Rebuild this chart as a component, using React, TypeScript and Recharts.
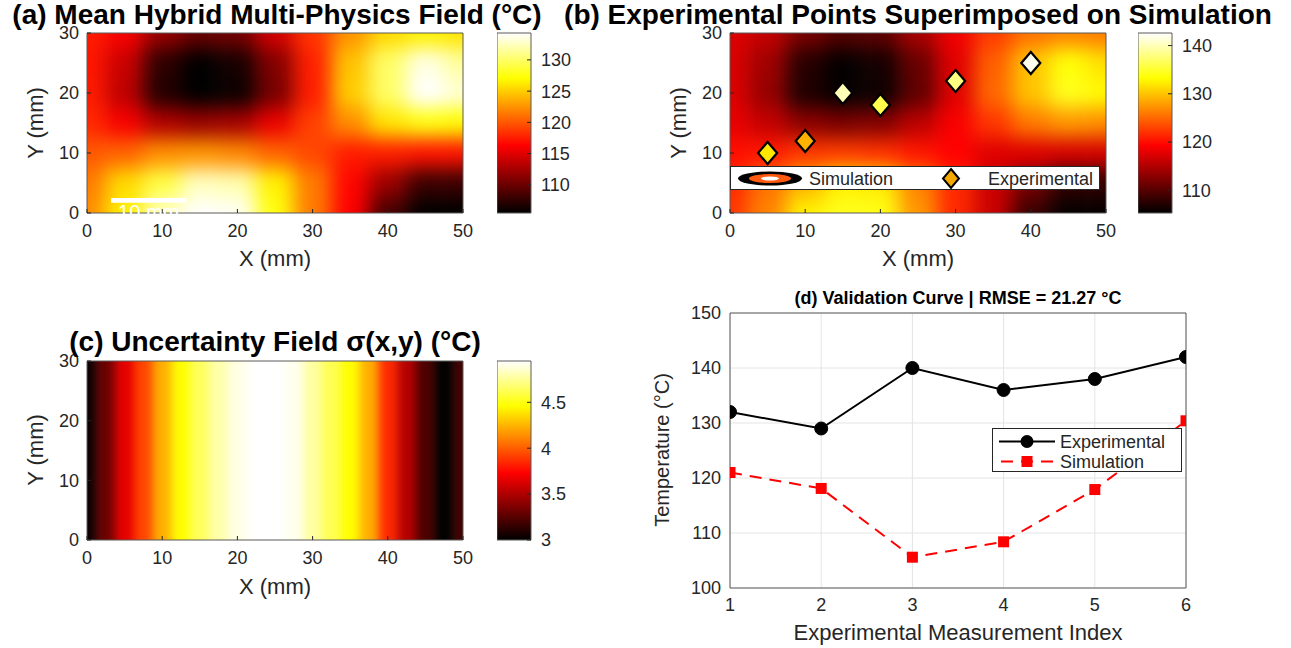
import React from "react";
import {
  CartesianGrid,
  ComposedChart,
  Line,
  LineChart,
  ReferenceArea,
  Scatter,
  XAxis,
  YAxis,
} from "recharts";

const FONT = '"Liberation Sans", Arial, sans-serif';
const INK = "#262626";
const BOX = "#5a5a5a";

// ---- grid for the mean field (mm) ----
const gridX = [0, 5, 10, 15, 20, 25, 30, 35, 40, 45, 50];
const gridY = [0, 5, 10, 15, 20, 25, 30];

// mean temperature (°C), one row per Y value
const meanY0 = [122.3, 126.5, 132.5, 134.3, 134.0, 127.5, 121.5, 116.3, 108.5, 105.5, 105.5];
const meanY5 = [121.5, 125.5, 129.0, 132.5, 132.0, 126.5, 121.5, 116.5, 112.0, 108.0, 108.0];
const meanY10 = [120.0, 120.5, 122.3, 122.6, 122.0, 120.5, 119.3, 117.5, 117.5, 117.0, 117.0];
const meanY15 = [118.0, 116.0, 113.0, 112.0, 112.5, 115.5, 119.0, 122.3, 126.0, 127.5, 127.0];
const meanY20 = [117.4, 113.5, 107.0, 105.5, 106.0, 110.5, 117.5, 125.0, 130.0, 134.3, 133.0];
const meanY25 = [117.2, 114.0, 107.5, 105.5, 106.5, 111.0, 117.6, 124.5, 130.0, 133.5, 131.5];
const meanY30 = [117.5, 116.0, 112.0, 110.0, 110.5, 114.5, 118.5, 122.5, 125.5, 126.5, 126.0];
const meanField = [meanY0, meanY5, meanY10, meanY15, meanY20, meanY25, meanY30];

// uncertainty sigma (°C) along X, constant in Y
const sigmaX = [0, 2.5, 5, 7.5, 10, 12.5, 15, 17.5, 20, 22.5, 25, 27.5, 30, 32.5, 35, 37.5, 40, 42.5, 45, 47.5, 50];
const sigmaVals = [3.03, 3.31, 3.66, 3.93, 4.23, 4.46, 4.64, 4.79, 4.9, 4.95, 4.95, 4.92, 4.77, 4.62, 4.46, 4.23, 3.85, 3.52, 3.22, 3.0, 3.2];

// experimental points
const expX = [5, 10, 15, 20, 30, 40];
const expY = [10, 12, 20, 18, 22, 25];
const expTemp = [132, 129, 140, 136, 138, 142];
const simTemp = [121.0, 118.1, 105.6, 108.4, 117.9, 130.4];
const measIdx = [1, 2, 3, 4, 5, 6];

// colour limits / ticks
const rangeA: [number, number] = [105.5, 134.3];
const rangeB: [number, number] = [105.3, 142.6];
const rangeC: [number, number] = [3.0, 4.95];
const cbTicksA = [110, 115, 120, 125, 130];
const cbTicksB = [110, 120, 130, 140];
const cbTicksC = [3, 3.5, 4, 4.5];
const mmTicksX = [0, 10, 20, 30, 40, 50];
const mmTicksY = [0, 10, 20, 30];
const tempTicks = [100, 110, 120, 130, 140, 150];

// panel rectangles (page px)
const plotA = { l: 87, t: 33, w: 376, h: 180 };
const plotB = { l: 730, t: 33, w: 376, h: 180 };
const plotC = { l: 87, t: 361, w: 376, h: 179 };
const plotD = { l: 730, t: 313, w: 456, h: 275 };
const barA = { l: 497, t: 33, w: 34, h: 180 };
const barB = { l: 1138, t: 33, w: 34, h: 180 };
const barC = { l: 497, t: 361, w: 34, h: 179 };

type Rect = { l: number; t: number; w: number; h: number };

const clamp = (v: number) => Math.max(0, Math.min(1, v));
function hot(t: number): string {
  const r = clamp(t / 0.375);
  const g = clamp((t - 0.375) / 0.375);
  const b = clamp((t - 0.75) / 0.25);
  return `rgb(${Math.round(r * 255)},${Math.round(g * 255)},${Math.round(b * 255)})`;
}
const hotAt = (v: number, [lo, hi]: [number, number]) => hot((v - lo) / (hi - lo));

interface Cell {
  key: string;
  x1: number;
  x2: number;
  y1: number;
  y2: number;
  fill: string;
}

function edges(vals: number[], i: number, ext: number): [number, number] {
  const a = i === 0 ? vals[0] - ext : (vals[i - 1] + vals[i]) / 2;
  const b = i === vals.length - 1 ? vals[i] + ext : (vals[i] + vals[i + 1]) / 2;
  return [a, b];
}

function fieldCells(xs: number[], ys: number[], rows: number[][], range: [number, number]): Cell[] {
  const out: Cell[] = [];
  rows.forEach((row, j) => {
    const [y1, y2] = edges(ys, j, 8);
    row.forEach((v, i) => {
      const [x1, x2] = edges(xs, i, 8);
      out.push({ key: `${i}-${j}`, x1, x2, y1, y2, fill: hotAt(v, range) });
    });
  });
  return out;
}

function bandCells(xs: number[], vals: number[], range: [number, number]): Cell[] {
  return vals.map((v, i) => {
    const [x1, x2] = edges(xs, i, 8);
    return { key: `b${i}`, x1, x2, y1: -10, y2: 40, fill: hotAt(v, range) };
  });
}

const tickStyle = { fill: INK, fontSize: 18, fontFamily: FONT };
const tickMark = { stroke: INK, strokeWidth: 1 };

function HeatLayer({ plot, cells, blur }: { plot: Rect; cells: Cell[]; blur: number }) {
  const pad = 45;
  return (
    <div style={{ position: "absolute", left: plot.l, top: plot.t, width: plot.w, height: plot.h, overflow: "hidden" }}>
      <div style={{ position: "absolute", left: -pad, top: -pad, filter: `blur(${blur}px)` }}>
        <ComposedChart
          width={plot.w + 2 * pad}
          height={plot.h + 2 * pad}
          margin={{ top: pad, right: pad, bottom: pad, left: pad }}
        >
          <XAxis type="number" dataKey="x" domain={[0, 50]} allowDataOverflow hide />
          <YAxis type="number" dataKey="y" domain={[0, 30]} allowDataOverflow hide />
          {cells.map((c) => (
            <ReferenceArea
              key={c.key}
              x1={c.x1}
              x2={c.x2}
              y1={c.y1}
              y2={c.y2}
              fill={c.fill}
              fillOpacity={1}
              stroke="none"
              ifOverflow="visible"
            />
          ))}
        </ComposedChart>
      </div>
    </div>
  );
}

function HeatAxes({ plot, children }: { plot: Rect; children?: React.ReactNode }) {
  const ML = 60, MT = 10, MR = 10, MB = 40;
  return (
    <div style={{ position: "absolute", left: plot.l - ML, top: plot.t - MT }}>
      <ComposedChart
        width={plot.w + ML + MR}
        height={plot.h + MT + MB}
        margin={{ top: MT, right: MR, left: 0, bottom: 0 }}
      >
        <XAxis
          type="number"
          dataKey="x"
          domain={[0, 50]}
          allowDataOverflow
          ticks={mmTicksX}
          interval={0}
          height={MB}
          axisLine={false}
          tickLine={tickMark}
          tickSize={-4}
          tickMargin={15}
          tick={tickStyle}
        />
        <YAxis
          type="number"
          dataKey="y"
          domain={[0, 30]}
          allowDataOverflow
          ticks={mmTicksY}
          interval={0}
          width={ML}
          axisLine={false}
          tickLine={tickMark}
          tickSize={-4}
          tickMargin={12}
          tick={tickStyle}
        />
        <ReferenceArea x1={0} x2={50} y1={0} y2={30} fill="none" stroke={BOX} ifOverflow="visible" />
        {children}
      </ComposedChart>
    </div>
  );
}

function ColorBar({ bar, range, ticks, id }: { bar: Rect; range: [number, number]; ticks: number[]; id: string }) {
  const MT = 12, MR = 60;
  return (
    <div style={{ position: "absolute", left: bar.l, top: bar.t - MT }}>
      <ComposedChart width={bar.w + MR} height={bar.h + 2 * MT} margin={{ top: MT, bottom: MT, left: 0, right: 0 }}>
        <defs>
          <linearGradient id={id} x1="0" y1="1" x2="0" y2="0">
            <stop offset="0" stopColor="#000" />
            <stop offset="0.375" stopColor="#f00" />
            <stop offset="0.75" stopColor="#ff0" />
            <stop offset="1" stopColor="#fff" />
          </linearGradient>
        </defs>
        <XAxis type="number" dataKey="x" domain={[0, 1]} allowDataOverflow hide />
        <YAxis
          type="number"
          dataKey="y"
          orientation="right"
          domain={range}
          allowDataOverflow
          ticks={ticks}
          interval={0}
          width={MR}
          axisLine={false}
          tickLine={tickMark}
          tickSize={-4}
          tickMargin={14}
          tick={tickStyle}
        />
        <ReferenceArea
          x1={0}
          x2={1}
          y1={range[0]}
          y2={range[1]}
          fill={`url(#${id})`}
          fillOpacity={1}
          stroke={BOX}
          ifOverflow="visible"
        />
      </ComposedChart>
    </div>
  );
}

function Txt({
  x, y, size, bold, rotate, color, children,
}: {
  x: number; y: number; size: number; bold?: boolean; rotate?: boolean; color?: string; children: React.ReactNode;
}) {
  return (
    <div
      style={{
        position: "absolute",
        left: x,
        top: y,
        transform: `translate(-50%, -50%)${rotate ? " rotate(-90deg)" : ""}`,
        fontFamily: FONT,
        fontSize: size,
        fontWeight: bold ? 700 : 400,
        color: color ?? "#000",
        whiteSpace: "nowrap",
        lineHeight: 1,
      }}
    >
      {children}
    </div>
  );
}

const expPoints = expX.map((x, i) => ({ x, y: expY[i], t: expTemp[i] }));
const valData = measIdx.map((idx, i) => ({ idx, exp: expTemp[i], sim: simTemp[i] }));

function Diamond(p: any) {
  const { cx, cy, payload } = p;
  if (cx == null || cy == null) return null;
  const w = 9.5, h = 11;
  return (
    <polygon
      points={`${cx},${cy - h} ${cx + w},${cy} ${cx},${cy + h} ${cx - w},${cy}`}
      fill={hotAt(payload.t, rangeB)}
      stroke="#000"
      strokeWidth={2.2}
    />
  );
}

function SquareDot(p: any) {
  const { cx, cy, index } = p;
  return <rect key={`sq${index}`} x={cx - 5.5} y={cy - 5.5} width={11} height={11} fill="#ff0000" />;
}

function ValidationChart() {
  const ML = 60, MT = 10, MR = 10, MB = 40;
  return (
    <div style={{ position: "absolute", left: plotD.l - ML, top: plotD.t - MT }}>
      <LineChart
        width={plotD.w + ML + MR}
        height={plotD.h + MT + MB}
        data={valData}
        margin={{ top: MT, right: MR, left: 0, bottom: 0 }}
      >
        <CartesianGrid stroke="#e4e4e4" />
        <XAxis
          type="number"
          dataKey="idx"
          domain={[1, 6]}
          allowDataOverflow
          ticks={measIdx}
          interval={0}
          height={MB}
          axisLine={false}
          tickLine={false}
          tickSize={0}
          tickMargin={10}
          tick={tickStyle}
        />
        <YAxis
          type="number"
          domain={[100, 150]}
          allowDataOverflow
          ticks={tempTicks}
          interval={0}
          width={ML}
          axisLine={false}
          tickLine={false}
          tickSize={0}
          tickMargin={9}
          tick={tickStyle}
        />
        <ReferenceArea x1={1} x2={6} y1={100} y2={150} fill="none" stroke={BOX} ifOverflow="visible" />
        <Line
          type="linear"
          dataKey="exp"
          stroke="#000"
          strokeWidth={2}
          dot={{ r: 6.5, fill: "#000", stroke: "#000", strokeWidth: 1 }}
          isAnimationActive={false}
        />
        <Line
          type="linear"
          dataKey="sim"
          stroke="#ff0000"
          strokeWidth={2}
          strokeDasharray="12 8"
          dot={SquareDot}
          isAnimationActive={false}
        />
      </LineChart>
    </div>
  );
}

export default function App() {
  const cellsA = fieldCells(gridX, gridY, meanField, rangeA);
  const cellsB = fieldCells(gridX, gridY, meanField, rangeB);
  const cellsC = bandCells(sigmaX, sigmaVals, rangeC);

  return (
    <div style={{ position: "absolute", left: 0, top: 0, width: 1291, height: 648, background: "#fff", overflow: "hidden" }}>
      {/* (a) */}
      <HeatLayer plot={plotA} cells={cellsA} blur={10} />
      <HeatAxes plot={plotA}>
        <ReferenceArea
          x1={3.2}
          x2={13.2}
          y1={1.7}
          y2={2.5}
          fill="#fff"
          fillOpacity={1}
          stroke="none"
          ifOverflow="visible"
          label={{ value: "10 mm", position: "bottom", fill: "#fff", fontSize: 20, fontFamily: FONT, offset: 2 }}
        />
      </HeatAxes>
      <ColorBar bar={barA} range={rangeA} ticks={cbTicksA} id="cbA" />
      <Txt x={277} y={15} size={28} bold>(a) Mean Hybrid Multi-Physics Field (°C)</Txt>
      <Txt x={275} y={259} size={22} color={INK}>X (mm)</Txt>
      <Txt x={36} y={123} size={22} color={INK} rotate>Y (mm)</Txt>

      {/* (b) */}
      <HeatLayer plot={plotB} cells={cellsB} blur={10} />
      <HeatAxes plot={plotB}>
        <Scatter data={expPoints} dataKey="y" shape={Diamond} isAnimationActive={false} />
      </HeatAxes>
      <ColorBar bar={barB} range={rangeB} ticks={cbTicksB} id="cbB" />
      <div
        style={{
          position: "absolute",
          left: 730,
          top: 166,
          width: 370,
          height: 24,
          background: "#fff",
          border: `1px solid ${INK}`,
          boxSizing: "border-box",
          fontFamily: FONT,
          fontSize: 18,
          color: INK,
        }}
      >
        <svg width={370} height={24} style={{ position: "absolute", left: 0, top: 0 }}>
          <ellipse cx={39} cy={11.5} rx={32} ry={7} fill="#000" />
          <ellipse cx={39} cy={11.5} rx={21} ry={4.5} fill="#ff5a10" />
          <ellipse cx={39} cy={11.5} rx={9} ry={2} fill="#fff" />
          <polygon points="220,2 228,11.5 220,21 212,11.5" fill="#f5a800" stroke="#000" strokeWidth={2} />
        </svg>
        <span style={{ position: "absolute", left: 78, top: 2 }}>Simulation</span>
        <span style={{ position: "absolute", left: 257, top: 2 }}>Experimental</span>
      </div>
      <Txt x={918} y={15} size={28} bold>(b) Experimental Points Superimposed on Simulation</Txt>
      <Txt x={918} y={259} size={22} color={INK}>X (mm)</Txt>
      <Txt x={679} y={123} size={22} color={INK} rotate>Y (mm)</Txt>

      {/* (c) */}
      <HeatLayer plot={plotC} cells={cellsC} blur={5} />
      <HeatAxes plot={plotC} />
      <ColorBar bar={barC} range={rangeC} ticks={cbTicksC} id="cbC" />
      <Txt x={275} y={342} size={28} bold>(c) Uncertainty Field σ(x,y) (°C)</Txt>
      <Txt x={275} y={587} size={22} color={INK}>X (mm)</Txt>
      <Txt x={36} y={450} size={22} color={INK} rotate>Y (mm)</Txt>

      {/* (d) */}
      <ValidationChart />
      <div
        style={{
          position: "absolute",
          left: 992,
          top: 428,
          width: 190,
          height: 44,
          background: "#fff",
          border: `1px solid ${INK}`,
          boxSizing: "border-box",
          fontFamily: FONT,
          fontSize: 18,
          color: INK,
        }}
      >
        <svg width={190} height={44} style={{ position: "absolute", left: 0, top: 0 }}>
          <line x1={6} x2={62} y1={12.5} y2={12.5} stroke="#000" strokeWidth={2} />
          <circle cx={34} cy={12.5} r={6.5} fill="#000" />
          <line x1={6} x2={62} y1={32.5} y2={32.5} stroke="#ff0000" strokeWidth={2} strokeDasharray="12 8" strokeDashoffset={-2} />
          <rect x={28.5} y={27} width={11} height={11} fill="#ff0000" />
        </svg>
        <span style={{ position: "absolute", left: 67, top: 3 }}>Experimental</span>
        <span style={{ position: "absolute", left: 67, top: 23 }}>Simulation</span>
      </div>
      <Txt x={958} y={298} size={18} bold>(d) Validation Curve | RMSE = 21.27 °C</Txt>
      <Txt x={958} y={633} size={22} color={INK}>Experimental Measurement Index</Txt>
      <Txt x={662} y={450} size={20} color={INK} rotate>Temperature (°C)</Txt>
    </div>
  );
}
